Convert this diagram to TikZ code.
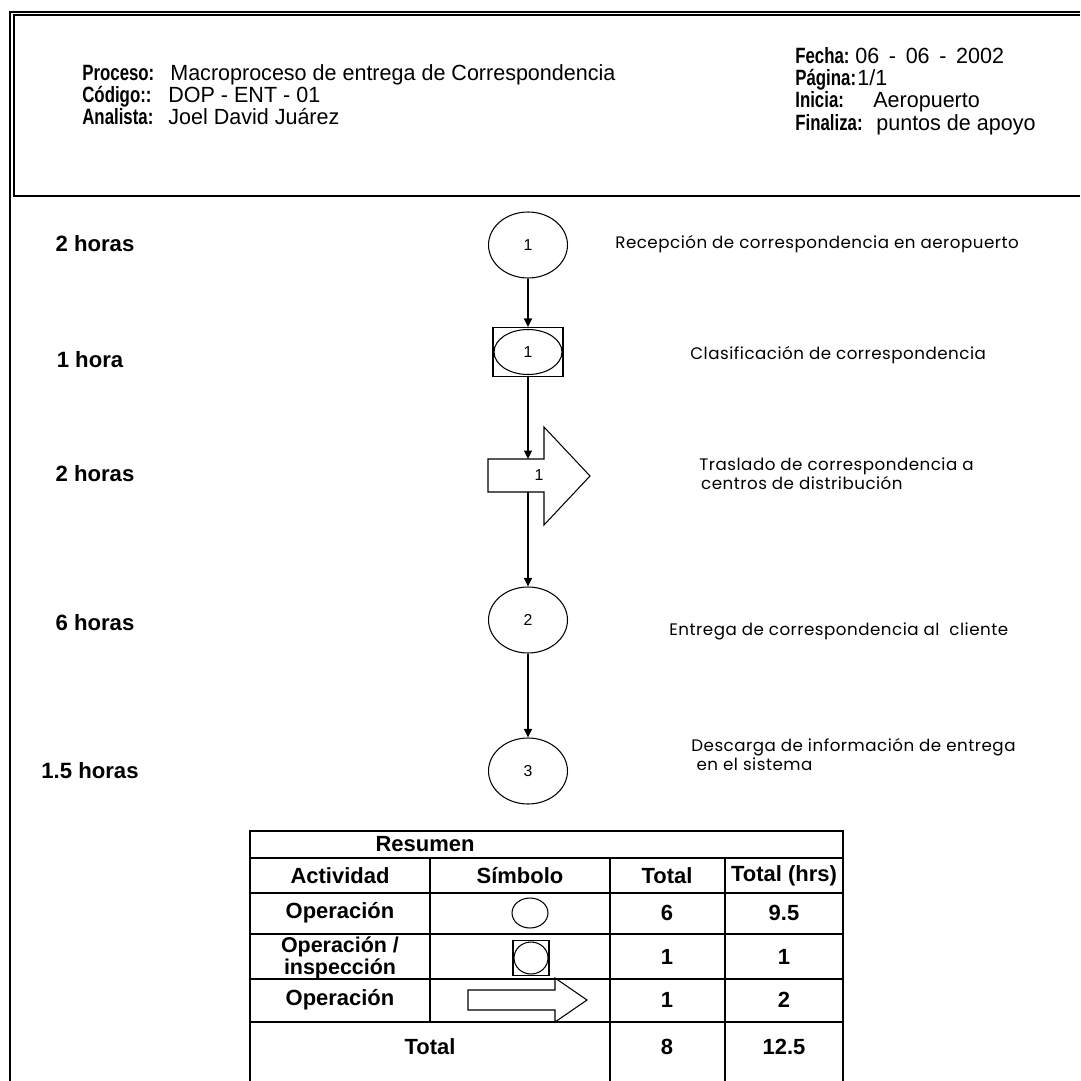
\documentclass[tikz,border=0pt]{standalone}
\usepackage{fontspec}
\setmainfont{Liberation Sans}
\newfontfamily\gothic[LetterSpace=3]{Poppins}
\newfontfamily\estrecha[FakeStretch=0.76]{Liberation Sans}
\newfontfamily\valorfont[FakeStretch=0.98]{Liberation Sans}
\usetikzlibrary{arrows.meta, shapes.geometric, positioning}

\begin{document}
\begin{tikzpicture}[x=0.02cm, y=-0.02cm,
    oper/.style={draw, ellipse, line width=0.6pt, inner sep=0pt,
      minimum width=1.58cm, minimum height=1.32cm, font=\fontsize{9}{10}\selectfont},
    caja/.style={draw, rectangle, line width=0.6pt, inner sep=0pt},
    flujo/.style={-{Triangle[length=1.7mm, width=1.6mm]}, line width=0.6pt},
    tiempo/.style={font=\fontsize{12.6}{14}\selectfont\bfseries},
    desc/.style={anchor=west, align=left, inner sep=0pt,
      font=\gothic\fontsize{9.5}{8}\selectfont},
    etiq/.style={anchor=base west, inner sep=0pt, font=\estrecha\fontsize{12.6}{14}\selectfont\bfseries},
    valor/.style={anchor=base west, inner sep=0pt, font=\valorfont\fontsize{12.5}{14}\selectfont},
    celda/.style={align=center, font=\fontsize{12.5}{11.5}\selectfont\bfseries}]
  \useasboundingbox (0,0) rectangle (1080,1081);

  % Marco
  \draw[line width=1.7pt] (10,1081) -- (10,12) -- (1080,12);
  \draw[line width=0.6pt] (1080,15) -- (14,15) -- (14,196) -- (1080,196);

  % Encabezado
  \node[etiq] (lproc) at (82,81) {Proceso:};
  \node[valor] (vproc) at (170,81) {Macroproceso de entrega de Correspondencia};
  \node[etiq] (lcod) at (82,103) {Código::};
  \node[valor] (vcod) at (168,103) {DOP - ENT - 01};
  \node[etiq] (lana) at (82,125) {Analista:};
  \node[valor] (vana) at (168,125) {Joel David Juárez};
  \node[etiq] (lfec) at (795,64) {Fecha:};
  \node[valor] (vfec) at (855,64) {06\hspace{5.5pt}-\hspace{5.5pt}06\hspace{5.5pt}-\hspace{5.5pt}2002};
  \node[etiq] (lpag) at (795,86) {Página:};
  \node[valor] (vpag) at (857,86) {1/1};
  \node[etiq] (lini) at (795,108) {Inicia:};
  \node[valor] (vini) at (873,108) {Aeropuerto};
  \node[etiq] (lfin) at (795,131) {Finaliza:};
  \node[valor] (vfin) at (876,131) {puntos de apoyo};

  % Tiempos
  \node[tiempo] (h1) at (95,244) {2 horas};
  \node[tiempo] (h2) at (90,360) {1 hora};
  \node[tiempo] (h3) at (95,474) {2 horas};
  \node[tiempo] (h4) at (95,623) {6 horas};
  \node[tiempo] (h5) at (90,771) {1.5 horas};

  % Simbolos del proceso
  \node[oper] (o1) at (528,245) {1};
  \node[caja, minimum width=1.4cm, minimum height=0.98cm] (i1) at (528,352) {};
  \node[oper, minimum width=1.36cm, minimum height=0.9cm] (i1e) at (i1) {1};
  \draw[line width=0.6pt] (488,459) -- (544,459) -- (544,427) -- (590,476)
    -- (544,525) -- (544,492) -- (488,492) -- cycle;
  \node[font=\fontsize{9}{10}\selectfont] (t1) at (539,475) {1};
  \coordinate (t1n) at (528,459);
  \coordinate (t1s) at (528,492);
  \node[oper] (o2) at (528,620) {2};
  \node[oper] (o3) at (528,771) {3};

  \draw[flujo] (o1) -- (i1);
  \draw[flujo] (i1) -- (t1n);
  \draw[flujo] (t1s) -- (o2);
  \draw[flujo] (o2) -- (o3);

  % Descripciones
  \node[desc] (d1) at (615,244) {Recepción de correspondencia en aeropuerto};
  \node[desc] (d2) at (690,355) {Clasificación de correspondencia};
  \node[desc] (d3) at (699,474) {Traslado de correspondencia a\\ \hspace{1pt}centros de distribución};
  \node[desc] (d4) at (669,631) {Entrega de correspondencia al \ cliente};
  \node[desc] (d5) at (691,754) {Descarga de información de entrega\\ \hspace{3pt}en el sistema};

  % Resumen
  \draw[line width=0.6pt] (250,1081) -- (250,831) -- (843,831) -- (843,1081);
  \foreach \yy in {858, 893, 934, 979, 1022}
    \draw[line width=0.6pt] (250,\yy) -- (843,\yy);
  \draw[line width=0.6pt] (430,858) -- (430,1022);
  \draw[line width=0.6pt] (610,858) -- (610,1081);
  \draw[line width=0.6pt] (725,858) -- (725,1081);

  \node[celda] (res) at (425,844) {Resumen};
  \node[celda] (cact) at (340,876) {Actividad};
  \node[celda] (csim) at (520,876) {Símbolo};
  \node[celda] (ctot) at (667,876) {Total};
  \node[celda] (chrs) at (784,876) {Total (hrs)};

  \node[celda] (a1) at (340,913) {Operación};
  \node[oper, minimum width=0.72cm, minimum height=0.6cm] (s1) at (530,913) {};
  \node[celda] (n1) at (667,913) {6};
  \node[celda] (r1) at (784,913) {9.5};

  \node[celda, font=\fontsize{12.2}{10.6}\selectfont\bfseries] (a2) at (340,958) {Operación /\\inspección};
  \node[caja, minimum width=0.72cm, minimum height=0.7cm] (s2) at (531,958) {};
  \node[oper, minimum width=0.68cm, minimum height=0.64cm] (s2e) at (s2) {};
  \node[celda] (n2) at (667,957) {1};
  \node[celda] (r2) at (784,957) {1};

  \node[celda] (a3) at (340,1000) {Operación};
  \draw[line width=0.6pt] (468,990) -- (555,990) -- (555,978) -- (587,1000)
    -- (555,1022) -- (555,1010) -- (468,1010) -- cycle;
  \node[celda] (n3) at (667,1000) {1};
  \node[celda] (r3) at (784,1000) {2};

  \node[celda] (atot) at (430,1047) {Total};
  \node[celda] (ntot) at (667,1047) {8};
  \node[celda] (rtot) at (784,1047) {12.5};
\end{tikzpicture}
\end{document}
